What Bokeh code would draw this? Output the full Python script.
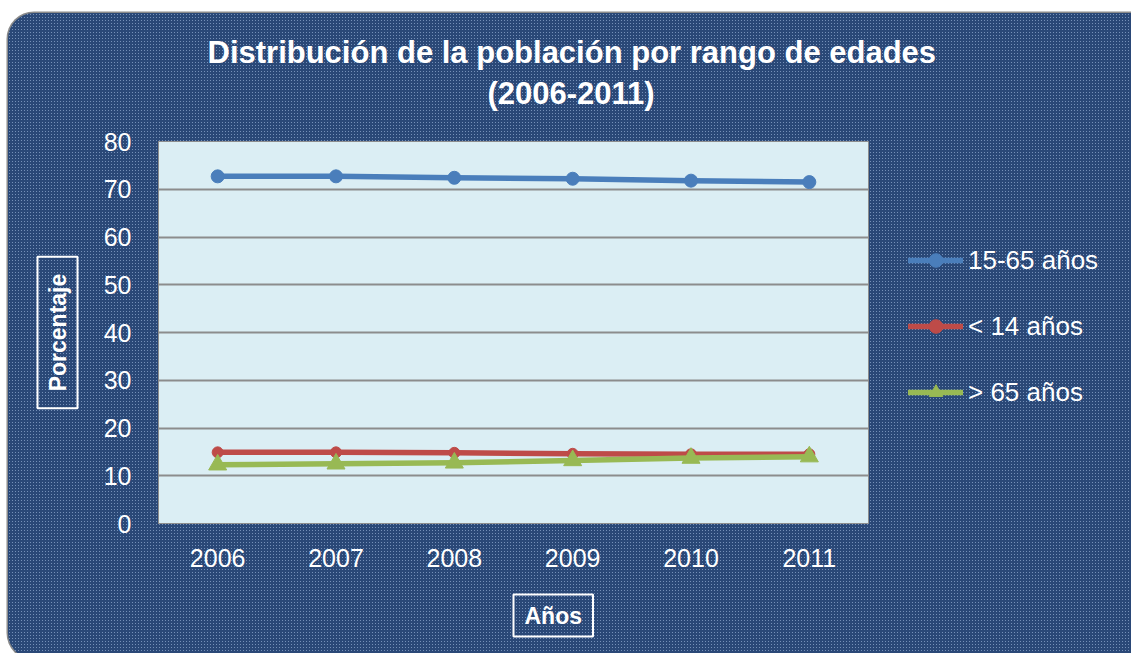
from bokeh.plotting import figure
from bokeh.models import (Legend, LegendItem, SingleIntervalTicker, Range1d,
                          FactorRange, Title)
from bokeh.embed import file_html
from bokeh.resources import INLINE

# ---- data ----
years = ["2006", "2007", "2008", "2009", "2010", "2011"]
s_15_65 = [72.7, 72.7, 72.4, 72.2, 71.8, 71.5]
s_lt14 = [14.9, 14.9, 14.8, 14.6, 14.5, 14.5]
s_gt65 = [12.3, 12.5, 12.7, 13.2, 13.7, 14.0]
series_names = ["15-65 años", "< 14 años", "> 65 años"]
title_lines = ["Distribución de la población por rango de edades", "(2006-2011)"]
y_title = "Porcentaje"
x_title = "Años"

NAVY = "#2a4877"
FONT = "Liberation Sans"
W, H = 1123, 640
FL, FR_W, FT, FH = 150, 710, 128, 382   # frame left, width, top, height (figure px)

p = figure(x_range=FactorRange(*years), y_range=Range1d(0, 80),
           frame_width=FR_W, frame_height=FH,
           output_backend="svg", toolbar_location=None,
           min_border_left=FL, min_border_right=W - FL - FR_W,
           min_border_top=FT, min_border_bottom=H - FT - FH)
p.styles = {"border-radius": "26px", "overflow": "hidden",
            "margin-top": "13px", "margin-left": "8px",
            "box-shadow": "0 0 0 1.5px #8a8a8a",
            "background-color": NAVY,
            "background-image": "radial-gradient(circle, #7590b8 0.7px, transparent 0.9px)",
            "background-size": "3px 3px"}
p.border_fill_color = NAVY
p.border_fill_alpha = 0
p.background_fill_color = "#dbeef4"
p.outline_line_color = "#8c8c8c"
p.outline_line_width = 1

p.yaxis.ticker = SingleIntervalTicker(interval=10)
for ax in (p.xaxis[0], p.yaxis[0]):
    ax.major_tick_line_color = None
    ax.minor_tick_line_color = None
    ax.axis_line_color = "#8c8c8c"
    ax.major_label_text_color = "white"
    ax.major_label_text_font = FONT
    ax.major_label_text_font_size = "25px"
p.yaxis.major_label_standoff = 21
p.xaxis.major_label_standoff = 19
p.xgrid.grid_line_color = None
p.ygrid.grid_line_color = "#8c8c8c"
p.ygrid.grid_line_width = 2

colors = ["#4a7ebb", "#be4b48", "#98b954"]
line_kw = dict(line_width=5.5, line_cap="round", line_join="round")
r1l = p.line(years, s_15_65, line_color=colors[0], **line_kw)
r1m = p.scatter(years, s_15_65, marker="circle", size=13, color=colors[0])
r2l = p.line(years, s_lt14, line_color=colors[1], **line_kw)
r2m = p.scatter(years, s_lt14, marker="circle", size=11, color=colors[1])
r3l = p.line(years, s_gt65, line_color=colors[2], **line_kw)
r3m = p.scatter(years, s_gt65, marker="triangle", size=18, color=colors[2])

legend = Legend(items=[LegendItem(label=series_names[0], renderers=[r1l, r1m]),
                       LegendItem(label=series_names[1], renderers=[r2l, r2m]),
                       LegendItem(label=series_names[2], renderers=[r3l, r3m])],
                location=(40, 114), background_fill_alpha=0, border_line_color=None,
                glyph_width=55, glyph_height=34, label_height=34, spacing=32,
                label_standoff=5, padding=0, margin=0,
                label_text_color="white", label_text_font=FONT,
                label_text_font_size="26px")
p.add_layout(legend, "right")

title_style = dict(text_color="white", text_font=FONT, text_font_style="bold")

# titles: p.title is outermost; in side lists index 0 is nearest the frame
p.title = Title(text=title_lines[0], align="left", offset=49, standoff=8,
                text_font_size="31px", **title_style)
top_gap = Title(text=" ", text_font_size="1px", standoff=28)
line2 = Title(text=title_lines[1], align="left", offset=329, standoff=0,
              text_font_size="31px", **title_style)
p.above = [top_gap, line2]

left_gap = Title(text=" ", text_font_size="1px", standoff=20)
porc = Title(text=y_title, align="center", standoff=0, text_font_size="23px",
             border_line_color="white", border_line_width=2, padding=(17, 7),
             **title_style)
p.left = [p.yaxis[0], left_gap, porc]

p.add_layout(Title(text=x_title, align="left", offset=355, standoff=46,
                   text_font_size="23px", border_line_color="white",
                   border_line_width=2, padding=(11, 8), **title_style), "below")

open("out.html", "w").write(file_html(p, INLINE))
